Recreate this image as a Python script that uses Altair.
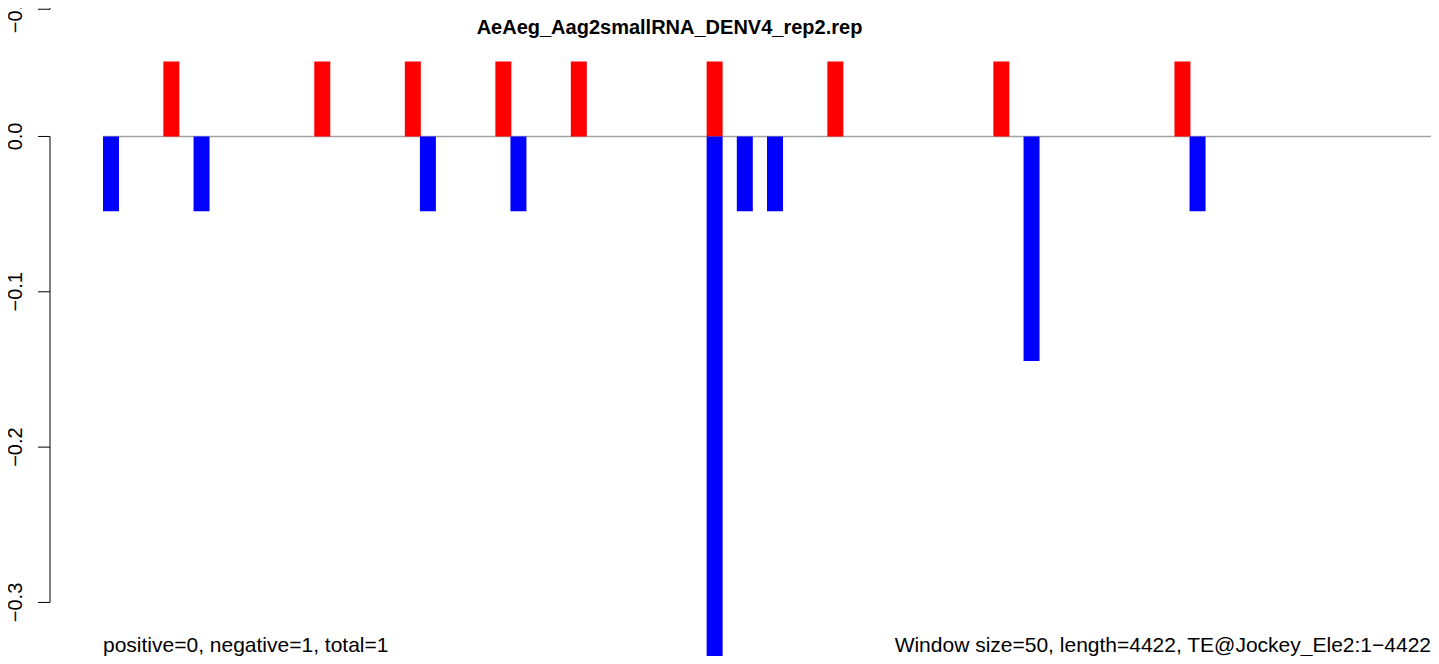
import altair as alt
import pandas as pd

# ---- data ----
red_idx = [4, 14, 20, 26, 31, 40, 48, 59, 71]
red_val = [0.0482, 0.0482, 0.0482, 0.0482, 0.0482, 0.0482, 0.0482, 0.0482, 0.0482]
blue_idx = [0, 6, 21, 27, 40, 42, 44, 61, 72]
blue_val = [-0.0482, -0.0482, -0.0482, -0.0482, -0.337, -0.0482, -0.0482, -0.1445, -0.0482]

n_windows = 88
tick_vals = [0.0819, 0.0, -0.1, -0.2, -0.3]
tick_labels = ["", "0.0", "\u22120.1", "\u22120.2", "\u22120.3"]
top_label_val = [0.0792]
top_label_txt = ["\u22120.2"]
axis_seg_a = [0.0819, 0.0]
axis_seg_b = [0.0827, -0.3]

title = "AeAeg_Aag2smallRNA_DENV4_rep2.rep"
left_note = "positive=0, negative=1, total=1"
right_note = "Window size=50, length=4422, TE@Jockey_Ele2:1\u22124422"

FONT = "Liberation Sans"
W, H = 1328, 648
PX_PER_UNIT = 1553.3
TOP_VAL = 0.0827
BOTTOM_VAL = TOP_VAL - H / PX_PER_UNIT

bars = pd.DataFrame({
    "i": red_idx + blue_idx,
    "v": red_val + blue_val,
    "z": [0.0] * (len(red_idx) + len(blue_idx)),
    "strand": ["plus"] * len(red_idx) + ["minus"] * len(blue_idx),
})

xs = alt.Scale(domain=[0, n_windows], nice=False, zero=False)
ys = alt.Scale(domain=[BOTTOM_VAL, TOP_VAL], nice=False, zero=False)

zero_line = alt.Chart(pd.DataFrame({"a": [0], "b": [n_windows], "z": [0.0]})).mark_rule(
    color="#a3a3a3", strokeWidth=1.5
).encode(
    x=alt.X("a:Q", scale=xs, axis=None),
    x2="b:Q",
    y=alt.Y("z:Q", scale=ys, axis=None),
)

bar_layer = alt.Chart(bars).transform_calculate(end="datum.i + 1.06").mark_bar(
    strokeWidth=0
).encode(
    x=alt.X("i:Q", scale=xs, axis=None),
    x2="end:Q",
    y=alt.Y("v:Q", scale=ys, axis=None),
    y2="z:Q",
    color=alt.Color("strand:N", scale=alt.Scale(domain=["plus", "minus"], range=["#ff0000", "#0000ff"]), legend=None),
)

ticks_df = pd.DataFrame({"t": tick_vals, "lab": tick_labels})
tick_marks = alt.Chart(ticks_df).mark_rule(color="black", strokeWidth=1).encode(
    x=alt.value(-65), x2=alt.value(-53),
    y=alt.Y("t:Q", scale=ys, axis=None),
)
label_style = dict(angle=270, font=FONT, fontSize=20, align="center", baseline="middle", color="black")
tick_text = alt.Chart(ticks_df).mark_text(**label_style).encode(
    x=alt.value(-87),
    y=alt.Y("t:Q", scale=ys, axis=None),
    text="lab:N",
)
top_text = alt.Chart(pd.DataFrame({"t": top_label_val, "lab": top_label_txt})).mark_text(**label_style).encode(
    x=alt.value(-87),
    y=alt.Y("t:Q", scale=ys, axis=None),
    text="lab:N",
)
axis_line = alt.Chart(pd.DataFrame({"a": axis_seg_a, "b": axis_seg_b})).mark_rule(
    color="black", strokeWidth=1
).encode(
    x=alt.value(-53),
    y=alt.Y("a:Q", scale=ys, axis=None),
    y2="b:Q",
)

title_text = alt.Chart(pd.DataFrame({"t": [title]})).mark_text(
    font=FONT, fontSize=20, fontWeight="bold", align="center", baseline="alphabetic", color="black"
).encode(x=alt.value(566.5), y=alt.value(25.5), text="t:N")

left_text = alt.Chart(pd.DataFrame({"t": [left_note]})).mark_text(
    font=FONT, fontSize=21, align="left", baseline="alphabetic", color="black"
).encode(x=alt.value(0), y=alt.value(644), text="t:N")

right_text = alt.Chart(pd.DataFrame({"t": [right_note]})).mark_text(
    font=FONT, fontSize=21, align="right", baseline="alphabetic", color="black"
).encode(x=alt.value(W), y=alt.value(644), text="t:N")

chart = alt.layer(
    zero_line, bar_layer, axis_line, tick_marks, tick_text, top_text, title_text, left_text, right_text
).properties(
    width=W, height=H,
    autosize="none",
    padding={"left": 95, "top": 0, "right": 0, "bottom": 0},
    background="white",
).configure_view(stroke=None)

chart.save("out.html", embed_options={"renderer": "svg", "actions": False})
